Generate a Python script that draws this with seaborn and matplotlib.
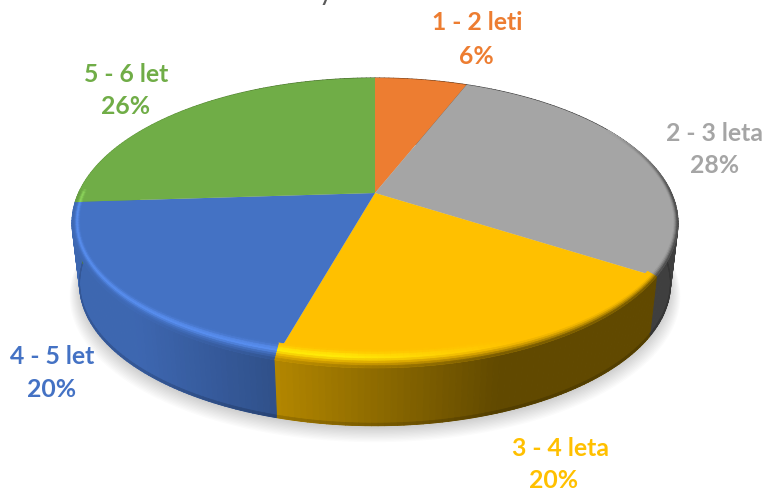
import numpy as np
import matplotlib
matplotlib.use("Agg")
import matplotlib.pyplot as plt
import seaborn as sns
from matplotlib.collections import PolyCollection
from matplotlib.colors import to_rgb
from matplotlib.path import Path
from matplotlib.transforms import Affine2D, Transform

categories = ["1 - 2 leti", "2 - 3 leta", "3 - 4 leta", "4 - 5 let", "5 - 6 let"]
values = [6, 28, 20.4, 19.6, 26]
hex_colors = ["#ED7D31", "#A5A5A5", "#FFC000", "#4472C4", "#70AD47"]

sns.set_theme(style="white")
plt.rcParams["font.family"] = ["Lato", "DejaVu Sans"]
palette = sns.color_palette(hex_colors)

CX, CY, K, A, B = 375.0, 193.0, 0.207, 138.8, 296.4
DEPTH, BOTTOM_SCALE = 62.0, 0.975


def project(x, y, scale=1.0, dy=0.0):
    d = 1 + K * y
    return CX + B * x / d * scale, CY - A * y / d * scale + dy


class DiscTransform(Transform):
    input_dims = output_dims = 2
    has_inverse = False

    def transform_non_affine(self, values):
        xy = np.asarray(values, dtype=float)
        px, py = project(xy[:, 0], xy[:, 1])
        return np.column_stack([px, py])

    def transform_path_non_affine(self, path):
        polys = path.to_polygons(Affine2D().scale(1000), closed_only=True)
        return Path(self.transform_non_affine(np.vstack(polys) / 1000))


fig = plt.figure(figsize=(7.68, 4.90), dpi=100)
ax = fig.add_axes([0, 0, 1, 1])
wedges, _ = ax.pie(values, colors=palette, startangle=90, counterclock=False,
                   wedgeprops={"linewidth": 0})
ax.set_aspect("auto")
ax.set_xlim(0, 768)
ax.set_ylim(490, 0)
ax.axis("off")

disc = DiscTransform() + ax.transData
for w in wedges:
    w.set_transform(disc)
    w.set_zorder(3)

# soft shadow below the disc
full = np.radians(np.linspace(0, 360, 240))
for i in range(12):
    sx, sy = project(np.cos(full), np.sin(full), BOTTOM_SCALE + 0.003 * i, DEPTH + 2 + 0.8 * i)
    ax.fill(sx, sy, color="#000000", alpha=0.014, lw=0, zorder=1)


def side_factor(px):
    return np.clip(0.38 + (500 - px) * 0.00143, 0.38, 0.9)


# side wall and bevel of each slice
side_polys, side_cols, foot_polys, foot_cols, rim_polys, rim_cols = [], [], [], [], [], []
radial = np.linspace(0, 1, 9)
for w, col in zip(wedges, palette):
    base = np.array(to_rgb(col))
    th = np.radians(np.linspace(w.theta1, w.theta2, max(int(w.theta2 - w.theta1), 4)))
    for a0, a1 in zip(th[:-1], th[1:]):
        xt, yt = project(np.cos([a0, a1]), np.sin([a0, a1]))
        xb, yb = project(np.cos([a0, a1]), np.sin([a0, a1]), BOTTOM_SCALE, DEPTH)
        f = side_factor(xt.mean())
        side_polys.append(np.column_stack([[xt[0], xt[1], xb[1], xb[0]], [yt[0], yt[1], yb[1], yb[0]]]))
        side_cols.append(base * f)
        # darker seam at the foot of the wall
        xm, ym = project(np.cos([a0, a1]), np.sin([a0, a1]), BOTTOM_SCALE, DEPTH - 2.5)
        foot_polys.append(np.column_stack([[xm[0], xm[1], xb[1], xb[0]], [ym[0], ym[1], yb[1], yb[0]]]))
        foot_cols.append(base * f * 0.85)

        am = 0.5 * (a0 + a1)
        s, c = np.sin(am), np.cos(am)
        weight = np.clip((0.5 - s) / 0.5, 0, 1) if c > 0 else np.clip(1 - s * 30, 0, 1)
        if weight <= 0:
            continue
        light = np.clip((520 - project(c, s)[0]) / 180, 0, 1)
        for t0, t1 in zip(radial[:-1], radial[1:]):
            tm = 0.5 * (t0 + t1)

            def ring(t, ang):
                rx = 1 - 0.025 * (1 - t)
                ry = 1 - (0.025 + 0.06 * max(0.0, -np.sin(ang))) * (1 - t)
                return project(rx * np.cos(ang), ry * np.sin(ang))

            pts = [ring(t0, a0), ring(t0, a1), ring(t1, a1), ring(t1, a0)]
            bump = np.exp(-((tm - 0.42) / 0.22) ** 2)
            glow = np.clip(base * (1 + 0.18 * light * bump) + 0.03 * light * bump, 0, 1)
            mix = np.clip((tm - 0.45) / 0.55, 0, 1) ** 1.5
            rim = glow * (1 - mix) + base * f * mix
            rim_polys.append(np.array(pts))
            rim_cols.append(base * (1 - weight) + rim * weight)

ax.add_collection(PolyCollection(side_polys, facecolors=side_cols, edgecolors=side_cols,
                                 linewidths=0.8, zorder=2))
ax.add_collection(PolyCollection(foot_polys, facecolors=foot_cols, edgecolors=foot_cols,
                                 linewidths=0.5, zorder=2.5))
ax.add_collection(PolyCollection(rim_polys, facecolors=rim_cols, edgecolors=rim_cols,
                                 linewidths=0.5, zorder=4))

# labels: name on the first line, share on the second
name_pos = [(477, 23), (715, 133), (560, 448), (52, 356), (126, 74)]
pct_pos = [(476, 56), (715, 165), (554, 480), (52, 389), (126, 106)]
for name, val, col, np_, pp in zip(categories, values, palette, name_pos, pct_pos):
    ax.text(*np_, name, color=col, fontsize=17.8, fontweight="bold", ha="center", va="center", zorder=6)
    ax.text(*pp, f"{val:.0f}%", color=col, fontsize=17.8, fontweight="bold", ha="center", va="center", zorder=6)

# foot of the title, cut off by the top edge of the picture
ax.text(326, 0, "y", color="#595959", fontsize=20, ha="center", va="baseline", zorder=6)

fig.savefig("out.png", dpi=100)
